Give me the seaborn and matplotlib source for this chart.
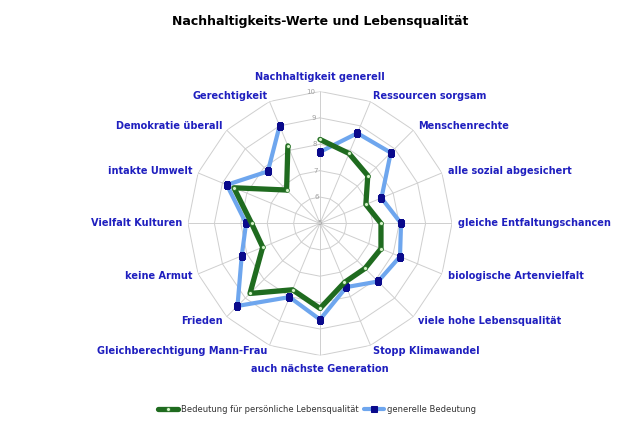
import numpy as np
import pandas as pd
import matplotlib
matplotlib.use("Agg")
import matplotlib.pyplot as plt
import seaborn as sns

categories = [
    "Nachhaltigkeit generell", "Ressourcen sorgsam", "Menschenrechte",
    "alle sozial abgesichert", "gleiche Entfaltungschancen",
    "biologische Artenvielfalt", "viele hohe Lebensqualität",
    "Stopp Klimawandel", "auch nächste Generation",
    "Gleichberechtigung Mann-Frau", "Frieden", "keine Armut",
    "Vielfalt Kulturen", "intakte Umwelt", "Demokratie überall",
    "Gerechtigkeit",
]
persoenlich = [8.18, 7.87, 7.56, 6.88, 7.31, 7.5, 7.41, 7.42,
               8.22, 7.72, 8.75, 7.35, 7.59, 8.53, 6.79, 8.18]
generell = [7.71, 8.7, 8.79, 7.52, 8.07, 8.28, 8.11, 7.61,
            8.64, 8.02, 9.42, 8.21, 7.8, 8.82, 7.79, 9.0]
r_ticks = [5, 6, 7, 8, 9, 10]
series_names = ["Bedeutung für persönliche Lebensqualität", "generelle Bedeutung"]

sns.set_style("white")
plt.rcParams["font.family"] = ["DejaVu Sans"]

n = len(categories)
angles = np.linspace(0, 2 * np.pi, n, endpoint=False)
closed = np.append(angles, angles[0])

fig = plt.figure(figsize=(6.4, 4.26), dpi=100)
ax = fig.add_axes([0.29375, 0.1655, 0.4125, 0.62], projection="polar")
ax.set_theta_zero_location("N")
ax.set_theta_direction(-1)

# spider web grid
for r in r_ticks[1:]:
    ax.plot(closed, [r] * len(closed), color="#cfcfcf", lw=0.7, zorder=1)
for a in angles:
    ax.plot([a, a], [r_ticks[0], r_ticks[-1]], color="#cfcfcf", lw=0.7, zorder=1)
for r in r_ticks:
    ax.text(-0.04 if r > 5 else 0, r, str(r), fontsize=5, color="#a0a0a0",
            ha="right" if r > 5 else "center", va="center", zorder=2)

df_p = pd.DataFrame({"angle": closed, "value": persoenlich + persoenlich[:1]})
df_g = pd.DataFrame({"angle": closed, "value": generell + generell[:1]})

sns.lineplot(data=df_g, x="angle", y="value", sort=False, ax=ax,
             color="#6ea6ee", lw=3, marker="s", markersize=3.8,
             markerfacecolor="#0a0a8c", markeredgecolor="#0a0a8c", zorder=3)
sns.lineplot(data=df_p, x="angle", y="value", sort=False, ax=ax,
             color="#1f6b1f", lw=3.8, marker="o", markersize=2.8,
             markerfacecolor="#d4f4c8", markeredgecolor="#1f6b1f",
             markeredgewidth=0.5, zorder=4)
ax.set_xlabel("")
ax.set_ylabel("")
ax.set_xticks([])
ax.set_yticks([])
ax.grid(False)
ax.spines["polar"].set_visible(False)
ax.set_ylim(r_ticks[0], r_ticks[-1])

for a, lab in zip(angles, categories):
    s, c = np.sin(a), np.cos(a)
    if abs(s) < 0.1:
        ax.text(a, 10.53, lab, fontsize=7, fontweight="bold", color="#1f1fbf",
                ha="center", va="center", clip_on=False)
    else:
        ax.text(a, 10.23, lab, fontsize=7, fontweight="bold", color="#1f1fbf",
                ha="left" if s > 0 else "right", va="center", clip_on=False)

fig.text(0.5, 0.95, "Nachhaltigkeits-Werte und Lebensqualität",
         ha="center", va="center", fontsize=9, fontweight="bold", color="black")

lines = ax.get_lines()
h_g, h_p = lines[-2], lines[-1]
fig.legend([h_p, h_g], series_names, loc="center", bbox_to_anchor=(0.495, 0.038),
           ncol=2, frameon=False, fontsize=6, handlelength=2.4,
           columnspacing=0.6, handletextpad=0.4, labelcolor="#333333")

fig.savefig("out.png", dpi=100)
